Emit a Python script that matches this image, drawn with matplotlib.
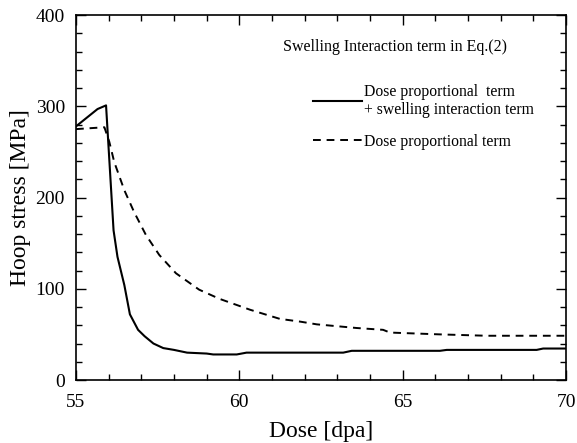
import numpy as np
import matplotlib.pyplot as plt
from matplotlib.ticker import MultipleLocator

plt.rcParams['font.family'] = ['Liberation Serif', 'DejaVu Serif']

# dose proportional + swelling interaction term
dose_sw = [55.0, 55.66, 55.92, 56.15, 56.27, 56.48, 56.65, 56.9, 57.1, 57.37, 57.67,
           58.0, 58.4, 59.0, 59.2, 59.92, 60.22, 63.18, 63.44, 66.14, 66.35, 69.1, 69.3, 70.0]
stress_sw = [278, 297, 301, 164, 135, 104, 72, 55, 48, 40, 35,
             33, 30, 29, 28, 28, 30, 30, 32, 32, 33, 33, 34.5, 34.5]

# dose proportional term only
dose_dp = [55.0, 55.87, 56.02, 56.17, 56.48, 56.78, 57.14, 57.55, 58.06, 58.77, 59.39, 60.33,
           61.24, 61.86, 62.37, 63.59, 64.4, 64.61, 66.14, 67.57, 70.0]
stress_dp = [275, 277, 261, 239, 208, 184, 159, 137, 117, 99, 89, 77,
             67, 64, 61, 57, 55, 52, 50, 48.5, 48.5]

fig = plt.figure(figsize=(5.77, 4.43), dpi=100)
ax = fig.add_axes([0.1317, 0.1422, 0.8493, 0.8238])

l1, = ax.plot(dose_sw, stress_sw, '-', color='black', lw=1.5)
l2, = ax.plot(dose_dp, stress_dp, color='black', lw=1.4, linestyle=(0, (4, 3)))

ax.set_xlim(55, 70)
ax.set_ylim(0, 400)
ax.xaxis.set_major_locator(MultipleLocator(5))
ax.xaxis.set_minor_locator(MultipleLocator(1))
ax.yaxis.set_major_locator(MultipleLocator(100))
ax.yaxis.set_minor_locator(MultipleLocator(20))
ax.tick_params(which='both', direction='in', top=True, right=True, width=1)
ax.tick_params(which='major', length=7, labelsize=14, pad=8)
ax.tick_params(axis='x', which='major', pad=10)
ax.tick_params(which='minor', length=4)
for s in ax.spines.values():
    s.set_linewidth(1.2)

ax.set_xlabel('Dose [dpa]', fontsize=17, labelpad=7)
ax.set_ylabel('Hoop stress [MPa]', fontsize=17, labelpad=3)

ax.text(0.423, 0.912, 'Swelling Interaction term in Eq.(2)', transform=ax.transAxes,
        fontsize=11.5, va='center')
ax.legend([l1, l2], ['Dose proportional  term\n+ swelling interaction term',
                     'Dose proportional term'],
          loc='upper left', bbox_to_anchor=(0.484, 0.812), frameon=False,
          fontsize=11.3, handlelength=3.1, handletextpad=0.13, labelspacing=1.0,
          borderaxespad=0, borderpad=0)

fig.savefig('out.png', dpi=100)
